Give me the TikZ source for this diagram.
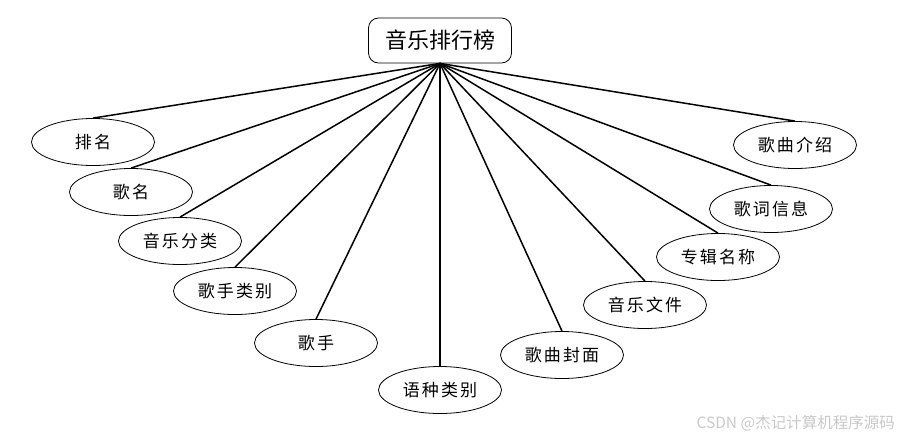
\documentclass[tikz,border=0pt]{standalone}
\usepackage{fontspec}
\setmainfont{Noto Sans CJK SC}
\usetikzlibrary{shapes.geometric}
\definecolor{MarkGray}{HTML}{C8C8C8}
\begin{document}
\begin{tikzpicture}[x=1pt,y=-1pt]
  \tikzstyle{attr}=[draw,ellipse,line width=0.8pt,minimum width=123pt,
    minimum height=47pt,inner sep=0pt,
    font=\fontsize{17}{19}\selectfont\addfontfeature{LetterSpace=12}]
  \tikzstyle{link}=[line width=1.5pt]
  \useasboundingbox (0,0) rectangle (899,437);
  \node[draw,rounded corners=10pt,line width=0.8pt,minimum width=143pt,
    minimum height=45pt,font=\fontsize{22}{24}\selectfont] (rank) at (440,40.5) {音乐排行榜};
  % attributes, left to right
  \node[attr] (pm) at (93,142) {排名};
  \node[attr] (gm) at (131,192) {歌名};
  \node[attr] (yyfl) at (180,241) {音乐分类};
  \node[attr] (gslb) at (235,291) {歌手类别};
  \node[attr] (gs) at (316,343) {歌手};
  \node[attr] (yzlb) at (440,390) {语种类别};
  \node[attr] (gqfm) at (562,355) {歌曲封面};
  \node[attr] (yywj) at (645,305) {音乐文件};
  \node[attr] (zjmc) at (718,257) {专辑名称};
  \node[attr] (gcxx) at (771,209) {歌词信息};
  \node[attr] (gqjs) at (795,145) {歌曲介绍};
  \foreach \n in {pm,gm,yyfl,gslb,gs,yzlb,gqfm,yywj,zjmc,gcxx,gqjs}
    \draw[link] (rank.south) -- (\n.north);
  \node[text=MarkGray,anchor=east,inner sep=0pt,font=\fontsize{15.5}{17}\selectfont] (mark) at (895,423) {CSDN @杰记计算机程序源码};
\end{tikzpicture}
\end{document}
